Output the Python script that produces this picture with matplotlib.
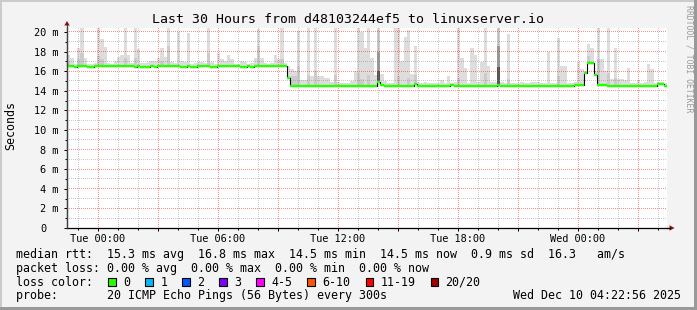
import numpy as np
import matplotlib
matplotlib.use("Agg")
import matplotlib.pyplot as plt
import matplotlib.dates as mdates
from matplotlib.ticker import MultipleLocator, FuncFormatter
from matplotlib.patches import Rectangle, Polygon
from matplotlib.transforms import ScaledTranslation
from datetime import datetime, timedelta

# ---------------- data ----------------
start_time = datetime(2025, 12, 8, 22, 27)
step_minutes = 10

median_ms = [
    16.5, 16.5, 16.4, 16.5, 16.5, 16.5, 16.4, 16.4, 16.5, 16.5, 16.5, 16.5, 16.5, 16.5, 16.5, 16.5, 16.5, 16.5, 16.5, 16.5,
    16.4, 16.5, 16.4, 16.4, 16.4, 16.5, 16.4, 16.5, 16.5, 16.5, 16.5, 16.5, 16.5, 16.5, 16.4, 16.4, 16.5, 16.4, 16.4, 16.5,
    16.5, 16.5, 16.5, 16.4, 16.4, 16.5, 16.5, 16.5, 16.5, 16.5, 16.5, 16.5, 16.4, 16.4, 16.5, 16.4, 16.5, 16.5, 16.5, 16.5,
    16.5, 16.5, 16.5, 16.5, 16.5, 16.5, 15.3, 14.5, 14.5, 14.5, 14.5, 14.5, 14.5, 14.5, 14.5, 14.5, 14.5, 14.5, 14.5, 14.5,
    14.5, 14.5, 14.5, 14.5, 14.5, 14.5, 14.5, 14.5, 14.5, 14.5, 14.5, 14.5, 14.5, 14.9, 14.6, 14.5, 14.5, 14.5, 14.5, 14.5,
    14.5, 14.5, 14.5, 14.5, 14.7, 14.5, 14.5, 14.5, 14.5, 14.5, 14.5, 14.5, 14.5, 14.5, 14.5, 14.6, 14.5, 14.5, 14.5, 14.5,
    14.5, 14.5, 14.5, 14.5, 14.5, 14.5, 14.5, 14.5, 14.5, 14.6, 14.5, 14.5, 14.5, 14.5, 14.5, 14.5, 14.5, 14.5, 14.5, 14.5,
    14.5, 14.5, 14.5, 14.5, 14.5, 14.5, 14.5, 14.5, 14.5, 14.5, 14.5, 14.5, 14.6, 14.6, 14.6, 15.8, 16.8, 16.8, 15.6, 14.6,
    14.6, 14.6, 14.5, 14.5, 14.5, 14.5, 14.5, 14.5, 14.5, 14.5, 14.5, 14.5, 14.5, 14.5, 14.5, 14.5, 14.5, 14.7, 14.7, 14.5,
]

smoke_max_ms = [
    17.6, 17.3, 16.7, 18.4, 21.0, 17.3, 16.7, 16.7, 16.8, 21.0, 19.3, 18.5, 16.8, 16.7, 17.0, 17.4, 17.6, 21.0, 17.6, 16.8,
    21.0, 18.3, 16.8, 16.8, 16.9, 17.0, 17.0, 17.3, 18.4, 17.4, 21.0, 16.9, 16.8, 20.0, 17.0, 16.9, 19.9, 16.7, 16.8, 16.9,
    16.9, 16.8, 21.0, 16.9, 16.7, 17.9, 17.2, 17.0, 17.6, 17.2, 16.7, 16.7, 17.0, 16.9, 16.7, 16.8, 17.3, 20.3, 17.3, 16.8,
    16.7, 16.8, 17.6, 17.2, 21.0, 16.8, 16.5, 16.2, 16.0, 20.1, 15.1, 15.1, 21.0, 15.5, 21.0, 15.5, 15.5, 15.3, 15.3, 14.9,
    21.0, 14.9, 14.8, 14.8, 14.8, 15.0, 16.0, 21.0, 20.0, 18.4, 21.0, 17.3, 15.6, 21.0, 15.7, 15.0, 14.8, 14.8, 21.0, 21.0,
    17.0, 19.5, 20.2, 15.7, 18.6, 14.9, 14.8, 14.9, 14.8, 14.8, 14.8, 14.8, 15.1, 14.8, 15.5, 14.8, 14.9, 21.0, 17.3, 16.3,
    14.8, 18.4, 17.6, 14.9, 16.9, 21.0, 16.5, 14.9, 14.9, 21.0, 14.9, 14.8, 19.8, 14.8, 14.8, 14.8, 14.9, 14.8, 14.8, 14.9,
    14.9, 14.9, 14.8, 14.8, 18.0, 14.8, 14.8, 19.4, 16.5, 16.5, 14.8, 14.8, 14.9, 16.9, 16.2, 16.0, 18.8, 18.4, 16.0, 21.0,
    17.2, 16.0, 21.0, 15.2, 18.4, 15.2, 15.2, 15.1, 16.3, 14.8, 14.8, 15.1, 14.8, 14.9, 16.7, 16.2, 14.8, 14.9, 14.9, 14.8,
]

# denser smoke (more pings high) at selected steps
smoke_mid_steps = [0, 3, 4, 9, 10, 17, 20, 28, 30, 42, 57, 64, 67, 68, 69, 72, 74, 80, 87, 88,
                   90, 93, 99, 102, 104, 117, 125, 129, 132, 147, 156, 159, 162, 164]
smoke_mid_ms = [17.0, 17.2, 17.8, 17.5, 17.2, 17.3, 17.3, 17.0, 18.6, 17.8, 18.6, 17.2, 15.5, 15.5, 16.5,
                15.6, 16.0, 15.6, 15.8, 15.2, 15.6, 20.2, 15.5, 15.3, 15.6, 15.3, 15.8, 20.4, 15.2, 15.5,
                17.5, 17.2, 15.8, 15.3]
smoke_dark_steps = [93, 129]
smoke_dark_ms = [18.0, 18.6]
smoke_darkest_ms = [16.0, 16.4]

loss_labels = ["0", "1", "2", "3", "4-5", "6-10", "11-19", "20/20"]
loss_colors = ["#26ff00", "#00b8ff", "#0059ff", "#7e00ff", "#ff00ff", "#ff5500", "#ff0000", "#a10000"]

title = "Last 30 Hours from d48103244ef5 to linuxserver.io"
rtt_stats = ["15.3 ms avg", "16.8 ms max", "14.5 ms min", "14.5 ms now", "0.9 ms sd"]
rtt_am = "16.3"
loss_stats = ["0.00 % avg", "0.00 % max", "0.00 % min", "0.00 % now"]
probe_text = "20 ICMP Echo Pings (56 Bytes) every 300s"
stamp_text = "Wed Dec 10 04:22:56 2025"

# ---------------- figure ----------------
W, H = 697, 310
MONO = "DejaVu Sans Mono"
plt.rcParams["font.family"] = [MONO]


def fx(x):
    return x / W


def fy(y):
    return 1 - y / H


fig = plt.figure(figsize=(W / 100, H / 100), dpi=100, facecolor="#f3f3f3")

# 3D-ish border
fig.add_artist(Rectangle((0, fy(2)), 1, 2 / H, transform=fig.transFigure, color="#cbcbcb", lw=0))
fig.add_artist(Rectangle((0, 0), 2 / W, 1, transform=fig.transFigure, color="#cbcbcb", lw=0))
fig.add_artist(Rectangle((0, 0), 1, 3 / H, transform=fig.transFigure, color="#999999", lw=0))
fig.add_artist(Rectangle((fx(W - 3), 0), 3 / W, 1, transform=fig.transFigure, color="#999999", lw=0))

AX_L, AX_B, AX_W, AX_H = 67, H - 228, 600, 200
ax = fig.add_axes([AX_L / W, AX_B / H, AX_W / W, AX_H / H])
ax.set_facecolor("white")

n = len(median_ms)
t_edges = mdates.date2num([start_time + timedelta(minutes=step_minutes * i) for i in range(n + 1)])
Y_TOP = 20.4

med_ext = median_ms + [median_ms[-1]]
hi_ext = smoke_max_ms + [smoke_max_ms[-1]]
ax.fill_between(t_edges, med_ext, hi_ext, step="post", color="#dddddd", lw=0, zorder=1)

for s, v in zip(smoke_mid_steps, smoke_mid_ms):
    ax.fill_between(t_edges[s:s + 2], [median_ms[s]] * 2, [v, v], color="#cbcbcb", lw=0, zorder=1.1)
for s, v, v2 in zip(smoke_dark_steps, smoke_dark_ms, smoke_darkest_ms):
    ax.fill_between(t_edges[s:s + 2], [median_ms[s]] * 2, [v, v], color="#9a9a9a", lw=0, zorder=1.2)
    ax.fill_between(t_edges[s:s + 2], [median_ms[s]] * 2, [v2, v2], color="#555555", lw=0, zorder=1.3)

ax.step(t_edges, med_ext, where="post", color="#000000", lw=0.8, zorder=3)
ax.hlines(median_ms, t_edges[:-1], t_edges[1:], color=loss_colors[0], lw=1.7, zorder=4)

ax.set_xlim(t_edges[0], t_edges[-1])
ax.set_ylim(0, Y_TOP)

ax.xaxis.set_major_locator(mdates.HourLocator(byhour=range(0, 24, 3)))
ax.xaxis.set_minor_locator(mdates.HourLocator())


def xfmt(v, pos):
    d = mdates.num2date(v)
    return d.strftime("%a %H:%M") if d.hour % 6 == 0 else ""


ax.xaxis.set_major_formatter(FuncFormatter(xfmt))
ax.yaxis.set_major_locator(MultipleLocator(2))
ax.yaxis.set_minor_locator(MultipleLocator(1))
ax.yaxis.set_major_formatter(FuncFormatter(lambda v, p: "0" if abs(v) < 1e-9 else f"{v:.0f} m"))

# ---- dotted rrdtool-style grid, rasterised pixel-exactly at the tick positions ----
grid_img = np.zeros((AX_H, AX_W, 4))
minor_rgba = (0.5, 0.5, 0.5, 0.42)
major_rgba = (1.0, 0.0, 0.0, 0.45)
x0, x1 = ax.get_xlim()


def in_x(v):
    return x0 < v < x1


def in_y(v):
    return 0 < v < Y_TOP


for locs, rgba in ((ax.xaxis.get_minorticklocs(), minor_rgba), (ax.xaxis.get_majorticklocs(), major_rgba)):
    for v in locs:
        if in_x(v):
            c = int(np.floor(ax.transData.transform((v, 0))[0] - AX_L))
            if 0 <= c < AX_W:
                grid_img[0::2, c] = rgba
for locs, rgba in ((ax.yaxis.get_minorticklocs(), minor_rgba), (ax.yaxis.get_majorticklocs(), major_rgba)):
    for v in locs:
        if in_y(v):
            r = int(np.floor(AX_B + AX_H - ax.transData.transform((x0, v))[1]))
            if 0 <= r < AX_H:
                grid_img[r, 0::2] = rgba
ax.imshow(grid_img, extent=(x0, x1, 0, Y_TOP), aspect="auto", interpolation="nearest", zorder=1.5)
ax.set_xlim(x0, x1)
ax.set_ylim(0, Y_TOP)

for side in ("top", "right"):
    ax.spines[side].set_visible(False)
ax.spines["left"].set_color("#404040")
ax.spines["bottom"].set_color("#000000")
ax.spines["left"].set_linewidth(0.9)
ax.spines["bottom"].set_linewidth(0.9)

ax.tick_params(axis="y", which="major", length=2.5, width=0.72, pad=3.4, labelsize=7.4, colors="black")
ax.tick_params(axis="y", which="minor", length=1.4, width=0.72)
ax.tick_params(axis="x", which="major", length=1.8, width=0.72, pad=2.8, labelsize=7.4, colors="black")
ax.tick_params(axis="x", which="minor", length=1.2, width=0.72)

# the "0" label sits in the digit column of the "N m" labels
ylocs = list(ax.yaxis.get_majorticklocs())
yticks = ax.yaxis.get_major_ticks(len(ylocs))
zero_idx = min(range(len(ylocs)), key=lambda k: abs(ylocs[k]))
zl = yticks[zero_idx].label1
zl.set_transform(zl.get_transform() + ScaledTranslation(-12.4 / 100, 0, fig.dpi_scale_trans))

# axis extensions and arrows (pixel geometry)
fig.add_artist(plt.Line2D([fx(67), fx(67)], [fy(228), fy(25)], transform=fig.transFigure, color="#404040", lw=0.9))
fig.add_artist(plt.Line2D([fx(667), fx(670)], [fy(228), fy(228)], transform=fig.transFigure, color="#000000", lw=0.9))
fig.add_artist(Polygon([(fx(64.3), fy(25.5)), (fx(69.7), fy(25.5)), (fx(67), fy(21))], closed=True,
                       transform=fig.transFigure, color="#8b1010", lw=0))
fig.add_artist(Polygon([(fx(669.5), fy(225.3)), (fx(669.5), fy(230.7)), (fx(674.5), fy(228))], closed=True,
                       transform=fig.transFigure, color="#8b1010", lw=0))

# title, labels, watermark
fig.text(fx(347.7), fy(23.4), title, ha="center", va="baseline", fontsize=9.5, family=MONO)
fig.text(fx(10.5), fy(125), "Seconds", rotation=90, ha="center", va="center", fontsize=8.4, family=MONO)
fig.text(fx(688.5), fy(59), "RRDTOOL / TOBI OETIKER", rotation=270, ha="center", va="center",
         fontsize=5.9, color="#9a9a9a", family=MONO)

# legend
CW = 7.02
LX = 16
rows_y = [258.4, 272.0, 285.7, 299.3]
row1 = "median rtt:  " + "  ".join(rtt_stats) + "  " + rtt_am + "   am/s"
row2 = "packet loss: " + "  ".join(loss_stats)
fig.text(fx(LX), fy(rows_y[0]), row1, ha="left", va="baseline", fontsize=8.4, family=MONO)
fig.text(fx(LX), fy(rows_y[1]), row2, ha="left", va="baseline", fontsize=8.4, family=MONO)
fig.text(fx(LX), fy(rows_y[2]), "loss color:", ha="left", va="baseline", fontsize=8.4, family=MONO)
bx = 108.3
for lab, col in zip(loss_labels, loss_colors):
    fig.add_artist(Rectangle((fx(bx), fy(285.7)), 7.6 / W, 7.8 / H, transform=fig.transFigure,
                             facecolor=col, edgecolor="black", lw=0.8))
    fig.text(fx(bx + 15), fy(rows_y[2]), lab, ha="left", va="baseline", fontsize=8.4, family=MONO)
    bx += 15 + len(lab) * CW + 15
fig.text(fx(LX), fy(rows_y[3]), "probe:       " + probe_text, ha="left", va="baseline", fontsize=8.4, family=MONO)
fig.text(fx(513.3), fy(rows_y[3]), stamp_text, ha="left", va="baseline", fontsize=8.4, family=MONO)

fig.savefig("out.png", dpi=100, facecolor=fig.get_facecolor())
